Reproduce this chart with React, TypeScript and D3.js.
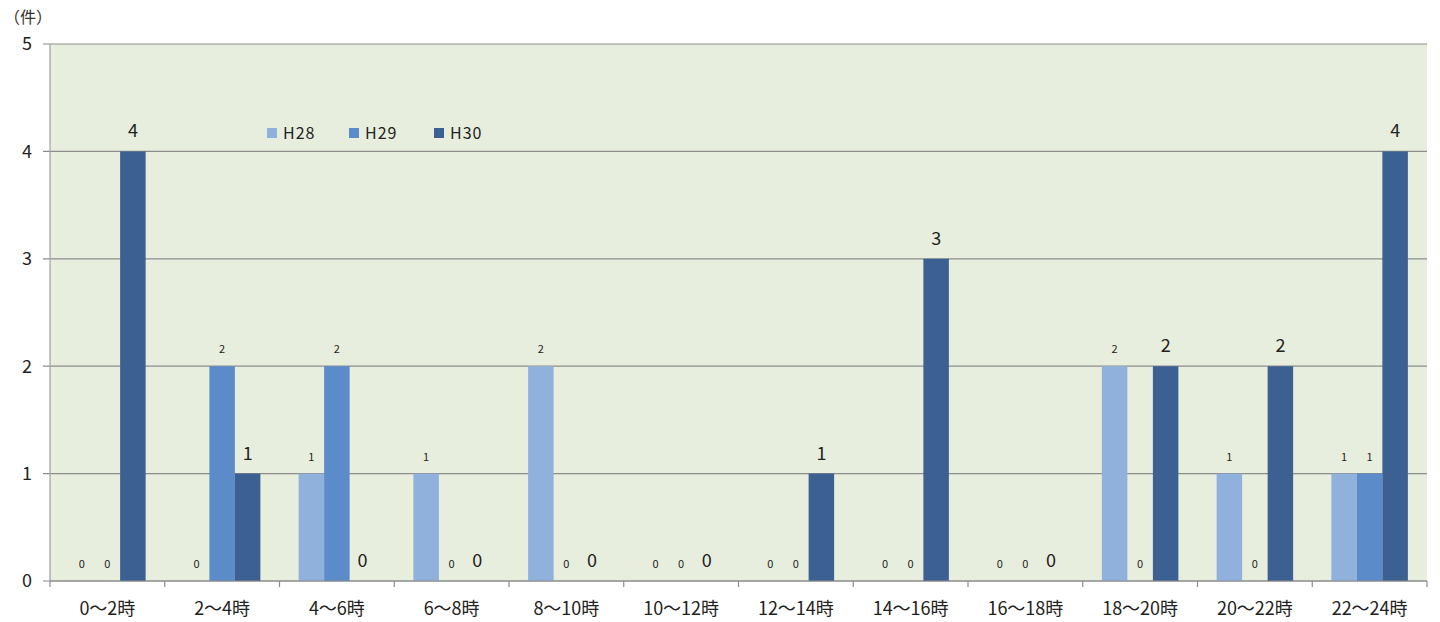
import React, { useEffect, useRef } from 'react';
import * as d3 from 'd3';

const categories = ['0～2時', '2～4時', '4～6時', '6～8時', '8～10時', '10～12時', '12～14時', '14～16時', '16～18時', '18～20時', '20～22時', '22～24時'];
const seriesNames = ['H28', 'H29', 'H30'];
const h28 = [0, 0, 1, 1, 2, 0, 0, 0, 0, 2, 1, 1];
const h29 = [0, 2, 2, 0, 0, 0, 0, 0, 0, 0, 0, 1];
const h30 = [4, 1, 0, 0, 0, 0, 1, 3, 0, 2, 2, 4];
const yTicks = [0, 1, 2, 3, 4, 5];
const colors = ['#8fb1dc', '#5b8bc8', '#3c6091'];

const W = 1440;
const H = 622;
const M = { left: 50, right: 13, top: 44, bottom: 41 };
const FONT = '"Noto Sans CJK JP", "DejaVu Sans", sans-serif';

const App = () => {
  const svgRef = useRef<SVGSVGElement>(null);

  useEffect(() => {
    const svg = d3.select(svgRef.current);
    svg.selectAll('*').remove();
    svg.style('font-family', FONT);

    const x0 = d3.scaleBand().domain(categories).range([M.left, W - M.right]).paddingInner(0).paddingOuter(0);
    const x1 = d3.scaleBand().domain(seriesNames).range([0, x0.bandwidth()]).paddingOuter(0.75).paddingInner(0);
    const y = d3.scaleLinear().domain([0, 5]).range([H - M.bottom, M.top]);

    // plot background
    svg.append('rect')
      .attr('x', M.left).attr('y', M.top)
      .attr('width', W - M.left - M.right).attr('height', H - M.top - M.bottom)
      .attr('fill', '#e8eedd');

    // gridlines
    svg.append('g').selectAll('line').data(yTicks).join('line')
      .attr('x1', M.left - 7).attr('x2', W - M.right)
      .attr('y1', d => y(d)).attr('y2', d => y(d))
      .attr('stroke', '#8c8c8c').attr('stroke-width', 1.2);

    svg.append('g').selectAll('text').data(yTicks).join('text')
      .attr('x', 32).attr('y', d => y(d)).attr('dy', '0.35em')
      .attr('text-anchor', 'end').attr('font-size', 18).attr('fill', '#222')
      .text(d => d);

    svg.append('text').attr('x', 4).attr('y', 23).attr('font-size', 16).attr('fill', '#333').text('（件）');

    // y axis line
    svg.append('line').attr('x1', M.left).attr('x2', M.left).attr('y1', M.top).attr('y2', y(0))
      .attr('stroke', '#a0a0a0').attr('stroke-width', 1.2);

    const all = [h28, h29, h30];
    const rows = categories.map((c, i) => seriesNames.map((s, k) => ({ c, s, k, v: all[k][i] })));

    const groups = svg.append('g').selectAll('g').data(rows).join('g')
      .attr('transform', (_, i) => `translate(${x0(categories[i])},0)`);

    groups.selectAll('rect').data(d => d).join('rect')
      .attr('x', d => x1(d.s)!)
      .attr('width', x1.bandwidth())
      .attr('y', d => y(d.v))
      .attr('height', d => y(0) - y(d.v))
      .attr('fill', d => colors[d.k]);

    groups.selectAll('text').data(d => d).join('text')
      .attr('x', d => x1(d.s)! + x1.bandwidth() / 2)
      .attr('y', d => y(d.v) - (d.k === 2 ? 14 : 13))
      .attr('text-anchor', 'middle')
      .attr('font-size', d => (d.k === 2 ? 18 : 11))
      .attr('fill', '#222')
      .text(d => d.v);

    // x axis baseline and ticks
    svg.append('line').attr('x1', M.left).attr('x2', W - M.right).attr('y1', y(0)).attr('y2', y(0))
      .attr('stroke', '#8c8c8c').attr('stroke-width', 1.2);
    const bounds = categories.map(c => x0(c)!).concat([W - M.right]);
    svg.append('g').selectAll('line').data(bounds).join('line')
      .attr('x1', d => d).attr('x2', d => d).attr('y1', y(0)).attr('y2', y(0) + 6)
      .attr('stroke', '#8c8c8c').attr('stroke-width', 1.2);

    svg.append('g').selectAll('text').data(categories).join('text')
      .attr('x', d => x0(d)! + x0.bandwidth() / 2).attr('y', 615)
      .attr('text-anchor', 'middle').attr('font-size', 18).attr('fill', '#222')
      .text(d => d);

    // legend
    const legendX = [267, 349, 434];
    const leg = svg.append('g').selectAll('g').data(seriesNames).join('g')
      .attr('transform', (_, i) => `translate(${legendX[i]},128)`);
    leg.append('rect').attr('width', 10).attr('height', 10).attr('fill', (_, i) => colors[i]);
    leg.append('text').attr('x', 16).attr('y', 5).attr('dy', '0.35em')
      .attr('font-size', 16).attr('letter-spacing', 1).attr('fill', '#222').text(d => d);
  }, []);

  return (
    <svg ref={svgRef} width={W} height={H} style={{ display: 'block', position: 'absolute', left: 0, top: 0, background: '#fff' }} />
  );
};

export default App;
